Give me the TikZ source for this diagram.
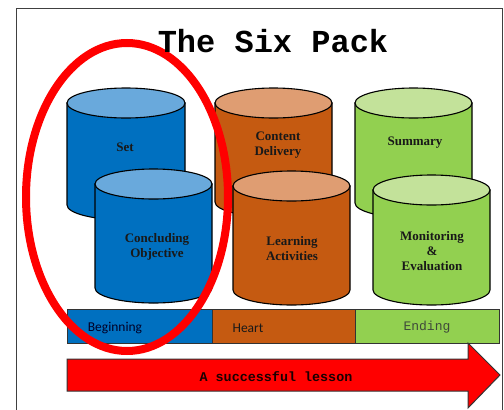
\documentclass[tikz,border=0pt]{standalone}
\usepackage{fontspec}
\setmainfont{Liberation Serif}
\newfontfamily\monof{Liberation Mono}
\newfontfamily\calf{Carlito}
\definecolor{bluebody}{HTML}{0070C0}
\definecolor{bluetop}{HTML}{69A9DC}
\definecolor{orbody}{HTML}{C55A11}
\definecolor{ortop}{HTML}{DF9D72}
\definecolor{grbody}{HTML}{92D050}
\definecolor{grtop}{HTML}{C3E29A}
\definecolor{endingtext}{HTML}{3F4A3A}
\newcommand\mycyl[6]{%
  \path[fill=#5,draw=black,line width=1.1pt] (#1,#3) -- (#1,#4)
    arc[start angle=180,end angle=0,x radius={(#2-#1)/2},y radius=15] -- (#2,#3) -- cycle;
  \path[fill=#6,draw=black,line width=1.1pt] ({(#1+#2)/2},#3) ellipse[x radius={(#2-#1)/2},y radius=15];
}
\tikzset{
  cyltext/.style={font=\fontsize{13}{15}\selectfont\bfseries, align=center, text=black!90},
  barbox/.style={draw=black!80, line width=1pt, minimum height=34pt, anchor=north west, inner sep=0pt},
}
\begin{document}
\begin{tikzpicture}[x=1pt,y=-1pt]
\useasboundingbox (0,0) rectangle (504,410);
\fill[white] (0,0) rectangle (504,410);
\draw[black!75, line width=1pt] (16,8) rectangle (502,430);
% back cylinders
\mycyl{67}{185}{103}{205}{bluebody}{bluetop}
\mycyl{215}{332}{103}{202}{orbody}{ortop}
\mycyl{355}{472}{103}{203}{grbody}{grtop}
\node[cyltext] (set) at (125,147) {Set};
\node[cyltext] (cd) at (278,145) {Content\\Delivery};
\node[cyltext] (sum) at (415,143) {Summary};
% front cylinders
\mycyl{95}{212}{184}{288}{bluebody}{bluetop}
\mycyl{233}{350}{186}{290}{orbody}{ortop}
\mycyl{373}{490}{190}{290}{grbody}{grtop}
\node[cyltext] (co) at (157,247) {Concluding\\Objective};
\node[cyltext] (la) at (292,249) {Learning\\Activities};
\node[cyltext] (me) at (432,251) {Monitoring\\\&\\Evaluation};
% bar
\node[barbox, fill=bluebody, minimum width=145pt] (beg) at (67,309) {};
\node[barbox, fill=orbody, minimum width=143pt] (hea) at (212,309) {};
\node[barbox, fill=grbody, minimum width=144pt] (end) at (355,309) {};
\node[font=\calf\fontsize{13.5}{13.5}\selectfont, text=black!85!blue] (begt) at (115,328) {Beginning};
\node[font=\calf\fontsize{13.5}{13.5}\selectfont, text=black!90] (heat) at (248,328) {Heart};
\node[font=\monof\fontsize{13}{13}\selectfont, text=endingtext] (endt) at (427,327) {Ending};
% arrow
\draw[fill=red, draw=black!80, line width=1pt] (67,359) -- (468,359) -- (468,343) -- (500,375) -- (468,408) -- (468,391) -- (67,391) -- cycle;
\node[font=\monof\bfseries\fontsize{13.4}{13.4}\selectfont, text=black!90!red] (arr) at (276,377) {A successful lesson};
% red ellipse
\draw[red, line width=8pt] (127,197) ellipse[x radius=101, y radius=154];
% title
\node[font=\monof\bfseries\fontsize{32}{32}\selectfont] (title) at (273,41) {The Six Pack};
\end{tikzpicture}
\end{document}
